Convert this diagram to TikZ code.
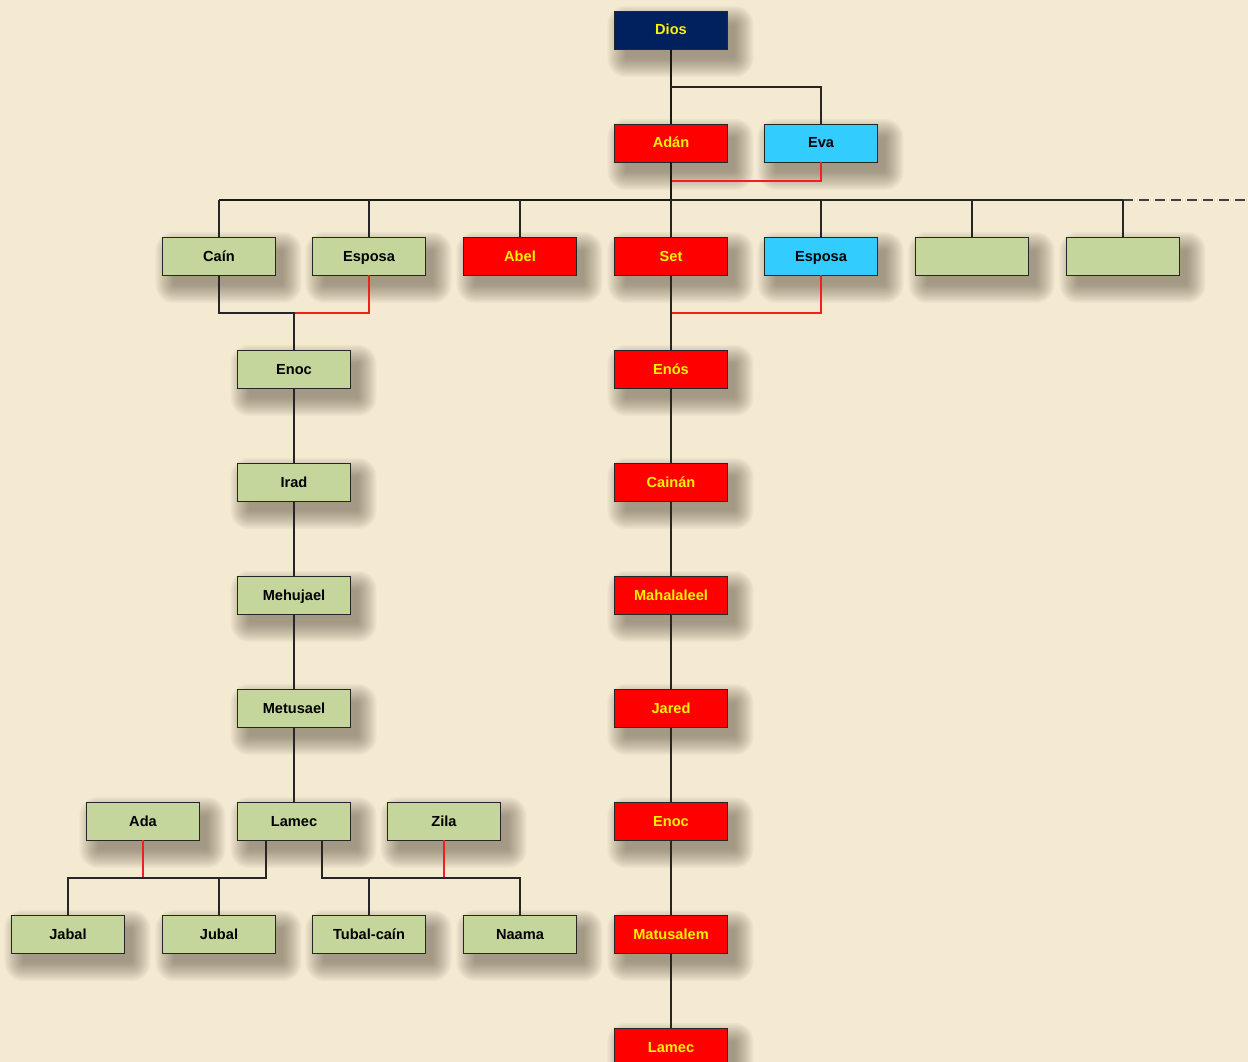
\documentclass[tikz,border=0pt]{standalone}
\usepackage{fontspec}
\setmainfont{Liberation Sans}
\definecolor{bg}{HTML}{F4EAD2}
\definecolor{boxgreen}{HTML}{C4D69C}
\definecolor{boxcyan}{HTML}{33CCFF}
\definecolor{navy}{HTML}{00215E}
\definecolor{lnred}{HTML}{F02020}
\definecolor{shade}{HTML}{4A4030}
\pgfdeclarelayer{bglayer}
\pgfdeclarelayer{shadowlayer}
\pgfsetlayers{bglayer,shadowlayer,main}
\begin{document}
\begin{tikzpicture}[x=1pt,y=-1pt,
  box/.style={draw=black!85, line width=0.9pt, minimum width=113pt, minimum height=38pt, inner sep=0pt,
    text height=10pt, text depth=0pt,
    font=\bfseries\fontsize{14.6}{16}\selectfont},
  gbox/.style={box, fill=boxgreen, text=black},
  rbox/.style={box, fill=red, text=yellow},
  cbox/.style={box, fill=boxcyan, text=black},
  dbox/.style={box, fill=navy, text=yellow},
  shadowpiece/.style={fill=shade, opacity=0.032},
  conn/.style={line width=1.3pt, black!85},
  mainconn/.style={line width=2pt, black!90},
  rconn/.style={line width=1.3pt, lnred},
  dconn/.style={line width=1.3pt, black!75, dash pattern=on 10pt off 6pt}]
\begin{pgfonlayer}{bglayer}
\fill[bg] (0,0) rectangle (1248,1062);
\end{pgfonlayer}
\useasboundingbox (0,0) rectangle (1248,1062);

% nodes
\node[dbox] (dios) at (671,30) {Dios};
\node[rbox] (adan) at (671,143) {Adán};
\node[cbox] (eva) at (821,143) {Eva};

\node[gbox] (cain) at (219,256) {Caín};
\node[gbox] (esposaA) at (369,256) {Esposa};
\node[rbox] (abel) at (520,256) {Abel};
\node[rbox] (set) at (671,256) {Set};
\node[cbox] (esposaB) at (821,256) {Esposa};
\node[gbox] (blankA) at (972,256) {};
\node[gbox] (blankB) at (1123,256) {};

\node[gbox] (enocA) at (294,369) {Enoc};
\node[gbox] (irad) at (294,482) {Irad};
\node[gbox] (mehujael) at (294,595) {Mehujael};
\node[gbox] (metusael) at (294,708) {Metusael};
\node[gbox] (ada) at (143,821) {Ada};
\node[gbox] (lamecA) at (294,821) {Lamec};
\node[gbox] (zila) at (444,821) {Zila};
\node[gbox] (jabal) at (68,934) {Jabal};
\node[gbox] (jubal) at (219,934) {Jubal};
\node[gbox] (tubal) at (369,934) {Tubal-caín};
\node[gbox] (naama) at (520,934) {Naama};

\node[rbox] (enos) at (671,369) {Enós};
\node[rbox] (cainan) at (671,482) {Cainán};
\node[rbox] (mahalaleel) at (671,595) {Mahalaleel};
\node[rbox] (jared) at (671,708) {Jared};
\node[rbox] (enocB) at (671,821) {Enoc};
\node[rbox] (matusalem) at (671,934) {Matusalem};
\node[rbox] (lamecB) at (671,1047) {Lamec};

% soft shadows
\begin{pgfonlayer}{shadowlayer}
\foreach \n in {dios,adan,eva,cain,esposaA,abel,set,esposaB,blankA,blankB,
  enocA,irad,mehujael,metusael,ada,lamecA,zila,jabal,jubal,tubal,naama,
  enos,cainan,mahalaleel,jared,enocB,matusalem,lamecB}
  \foreach \k in {0,...,17}
    \fill[shadowpiece, rounded corners=\k*1.1pt]
      ([shift={(12-1.1*\k,14-1.1*\k)}]\n.north west)
      rectangle ([shift={(7+1.1*\k,9+1.1*\k)}]\n.south east);
\end{pgfonlayer}

% junction coordinates
\coordinate (jDios) at (671,87);
\coordinate (jAdanEva) at (671,181);
\coordinate (barL) at (219,200);
\coordinate (barM) at (671,200);
\coordinate (barR) at (1123,200);
\coordinate (barEnd) at (1248,200);
\coordinate (jCain) at (294,313);
\coordinate (jSet) at (671,313);
\coordinate (jL1) at (266,878);
\coordinate (jL2) at (322,878);

% connectors
\draw[mainconn] (dios.south) -- (adan.north);
\draw[conn] (jDios) -| (eva.north);
\draw[rconn] (eva.south) |- (jAdanEva);
\draw[mainconn] (adan.south) -- (barM);
\draw[mainconn] (barL) -- (barM);
\draw[conn] (barM) -- (barR);
\draw[dconn] (barR) -- (barEnd);
\foreach \n in {cain,esposaA,abel,set,esposaB,blankA,blankB}
  \draw[conn] (\n.north) -- (\n.north |- barM);

\draw[rconn] (esposaA.south) |- (jCain);
\draw[conn] (cain.south) |- (jCain) -- (enocA.north);
\draw[rconn] (esposaB.south) |- (jSet);
\draw[conn] (set.south) -- (enos.north);

\draw[conn] (enocA) -- (irad);
\draw[conn] (irad) -- (mehujael);
\draw[conn] (mehujael) -- (metusael);
\draw[conn] (metusael) -- (lamecA);

\draw[conn] (enos) -- (cainan);
\draw[conn] (cainan) -- (mahalaleel);
\draw[conn] (mahalaleel) -- (jared);
\draw[conn] (jared) -- (enocB);
\draw[conn] (enocB) -- (matusalem);
\draw[conn] (matusalem) -- (lamecB);

\draw[rconn] (ada.south) -- (ada.south |- jL1);
\draw[rconn] (zila.south) -- (zila.south |- jL2);
\draw[conn] (lamecA.south -| jL1) -- (jL1) -| (jabal.north);
\draw[conn] (jubal.north) -- (jubal.north |- jL1);
\draw[conn] (lamecA.south -| jL2) -- (jL2) -| (naama.north);
\draw[conn] (tubal.north) -- (tubal.north |- jL2);
\end{tikzpicture}
\end{document}
